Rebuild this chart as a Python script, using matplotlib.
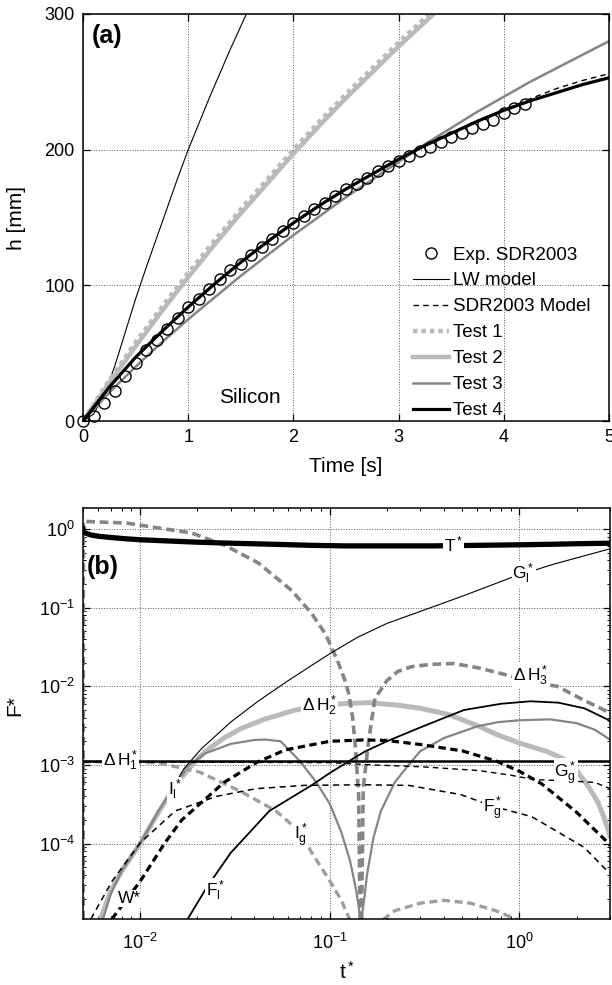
import matplotlib
matplotlib.use('Agg')
import matplotlib.pyplot as plt
import numpy as np
from matplotlib.ticker import LogLocator, NullFormatter
from matplotlib.lines import Line2D

plt.rcParams['font.family'] = ['Liberation Sans', 'DejaVu Sans']
plt.rcParams['mathtext.fontset'] = 'custom'
plt.rcParams['mathtext.rm'] = 'Liberation Sans'
plt.rcParams['mathtext.it'] = 'Liberation Sans:italic'
plt.rcParams['mathtext.bf'] = 'Liberation Sans:bold'
plt.rcParams['mathtext.default'] = 'regular'

# ---------------- datos panel (a) ----------------
exp_t = [0.0, 0.1, 0.2, 0.3, 0.4, 0.5, 0.6, 0.7, 0.8, 0.9,
         1.0, 1.1, 1.2, 1.3, 1.4, 1.5, 1.6, 1.7, 1.8, 1.9,
         2.0, 2.1, 2.2, 2.3, 2.4, 2.5, 2.6, 2.7, 2.8, 2.9,
         3.0, 3.1, 3.2, 3.3, 3.4, 3.5, 3.6, 3.7, 3.8, 3.9,
         4.0, 4.1, 4.2]
exp_h = [0, 4, 13, 22, 33, 43, 52, 60, 68, 76,
         84, 90, 97, 105, 111, 116, 122, 128, 134, 140,
         146, 151, 156, 161, 166, 171, 175, 179, 184, 188,
         192, 195, 199, 202, 206, 209, 212, 216, 219, 222,
         227, 231, 234]

t_lw = [0, 0.1, 0.2, 0.3, 0.4, 0.5, 0.6, 0.7, 0.8, 0.9, 1.0, 1.2, 1.4, 1.6]
h_lw = [0, 5, 19, 40, 65, 90, 113, 135, 157, 179, 200, 238, 274, 308]

t_fast = [0, 0.25, 0.5, 0.75, 1.0, 1.25, 1.5, 1.75, 2.0, 2.25, 2.5, 2.75, 3.0, 3.25, 3.5]
h_test1 = [0, 30, 58, 84, 109, 133, 156, 178, 200, 221, 241, 260, 279, 297, 315]
h_test2 = [0, 28, 55, 81, 106, 130, 153, 175, 197, 218, 238, 257, 276, 294, 312]

t_full = [0, 0.25, 0.5, 0.75, 1.0, 1.25, 1.5, 1.75, 2.0, 2.25, 2.5,
          2.75, 3.0, 3.25, 3.5, 3.75, 4.0, 4.25, 4.5, 4.75, 5.0]
h_test3 = [0, 21, 40, 58, 75, 91, 107, 122, 137, 151, 165,
           178, 191, 204, 216, 228, 239, 250, 260, 270, 280]
h_test4 = [0, 25, 47, 66, 84, 101, 117, 132, 146, 159, 171,
           182, 193, 203, 212, 221, 229, 236, 242, 248, 253]
h_sdr = [0, 25, 47, 66, 84, 101, 117, 132, 146, 159, 171,
         182, 193, 203, 212, 221, 229, 237.5, 245, 251, 256]

# ---------------- datos panel (b) ----------------
x_T = [0.00501, 0.00505, 0.0055, 0.006, 0.007, 0.0085, 0.01, 0.015, 0.02, 0.03,
       0.05, 0.08, 0.12, 0.2, 0.35, 0.6, 1.0, 1.5, 2.0, 3.0]
y_T = [1.0, 0.9, 0.84, 0.81, 0.78, 0.75, 0.73, 0.70, 0.68, 0.66,
       0.64, 0.62, 0.61, 0.61, 0.61, 0.62, 0.63, 0.64, 0.65, 0.66]

x_Gl = [0.014, 0.017, 0.021, 0.03, 0.042, 0.06, 0.1, 0.14, 0.2, 0.34, 0.5, 0.9, 1.5, 2.2, 3.0]
y_Gl = [4e-4, 8.9e-4, 1.6e-3, 3.5e-3, 6.5e-3, 1.17e-2, 2.6e-2, 4.2e-2, 6.3e-2,
        0.1, 0.14, 0.24, 0.355, 0.457, 0.56]

x_H3 = [0.00501, 0.00502, 0.0085, 0.0187, 0.028, 0.042, 0.063, 0.08, 0.095, 0.1,
        0.11, 0.12, 0.126, 0.132, 0.137, 0.142, 0.1445,
        0.147, 0.15, 0.16, 0.173, 0.2, 0.229, 0.27, 0.34, 0.45, 0.62, 0.9,
        1.14, 1.58, 2.2, 3.0]
y_H3 = [1e-6, 1.25, 1.19, 0.89, 0.62, 0.37, 0.165, 0.085, 0.046, 0.035,
        0.021, 0.012, 8e-3, 4e-3, 1.5e-3, 4e-4, 1e-5,
        1e-5, 5e-4, 2e-3, 7e-3, 1.18e-2, 1.55e-2, 1.78e-2, 1.9e-2, 1.95e-2, 1.7e-2, 1.35e-2,
        1.15e-2, 1e-2, 6.6e-3, 4.6e-3]

x_H2 = [0.0061, 0.007, 0.008, 0.01, 0.0125, 0.0153, 0.018, 0.022, 0.028, 0.034,
        0.045, 0.066, 0.089, 0.115, 0.16, 0.229, 0.3, 0.42, 0.6, 0.77,
        1.0, 1.4, 1.7, 2.0, 2.3, 2.6, 2.8, 3.0]
y_H2 = [1e-5, 2.5e-5, 4.5e-5, 1e-4, 2.5e-4, 5.5e-4, 8.9e-4, 1.48e-3, 2.24e-3, 2.9e-3,
        3.8e-3, 5e-3, 5.6e-3, 6e-3, 6.2e-3, 5.75e-3, 5.25e-3, 4.4e-3, 3.16e-3, 2.4e-3,
        1.9e-3, 1.48e-3, 1.2e-3, 8.5e-4, 5.4e-4, 3.3e-4, 2.1e-4, 1.26e-4]

x_Il = [0.0063, 0.007, 0.008, 0.01, 0.0125, 0.0153, 0.018, 0.022, 0.03, 0.04,
        0.046, 0.055, 0.07, 0.085, 0.1, 0.115, 0.128, 0.138, 0.146,
        0.152, 0.157, 0.17, 0.186, 0.22, 0.26, 0.3, 0.4, 0.6, 0.77, 1.0,
        1.45, 2.0, 2.5, 3.0]
y_Il = [1e-5, 2.3e-5, 4.5e-5, 1e-4, 2.6e-4, 5.5e-4, 9.8e-4, 1.4e-3, 1.85e-3, 2.08e-3,
        2.1e-3, 2.0e-3, 1.1e-3, 6e-4, 3.2e-4, 1.4e-4, 6e-5, 2.5e-5, 1e-5,
        2e-5, 4e-5, 1.2e-4, 2.6e-4, 6e-4, 1e-3, 1.5e-3, 2.2e-3, 3.1e-3, 3.5e-3, 3.7e-3,
        3.8e-3, 3.4e-3, 2.8e-3, 2.1e-3]

x_Fl = [0.0174, 0.0224, 0.03, 0.048, 0.08, 0.1, 0.139, 0.153, 0.2, 0.3,
        0.51, 0.8, 1.14, 1.6, 2.2, 2.9, 3.0]
y_Fl = [1e-5, 2.75e-5, 7.6e-5, 2.6e-4, 5.5e-4, 7.9e-4, 1.29e-3, 1.48e-3, 2e-3, 3e-3,
        5e-3, 6e-3, 6.45e-3, 6.2e-3, 5.25e-3, 3.8e-3, 3.55e-3]

x_H1 = [0.005, 3.0]
y_H1 = [1.12e-3, 1.12e-3]

x_Ig = [0.005, 0.0124, 0.0206, 0.034, 0.052, 0.07, 0.08, 0.103, 0.115, 0.127, 0.13]
y_Ig = [1.1e-3, 1.07e-3, 8.1e-4, 4.6e-4, 2.6e-4, 1.4e-4, 7.8e-5, 3e-5, 1.9e-5, 1.1e-5, 9e-6]
x_Ig2 = [0.175, 0.183, 0.22, 0.3, 0.4, 0.55, 0.75, 1.0, 1.05]
y_Ig2 = [8e-6, 1e-5, 1.4e-5, 1.75e-5, 1.9e-5, 1.75e-5, 1.4e-5, 1.05e-5, 9e-6]

x_W = [0.0071, 0.01, 0.0135, 0.0166, 0.0277, 0.041, 0.058, 0.1, 0.15, 0.2,
       0.3, 0.5, 0.755, 1.0, 1.31, 2.0, 2.9, 3.0]
y_W = [1.1e-5, 3.3e-5, 1.02e-4, 2e-4, 6e-4, 1.07e-3, 1.55e-3, 2e-3, 2.08e-3, 2.05e-3,
       1.82e-3, 1.51e-3, 1.12e-3, 8.3e-4, 5.75e-4, 2.5e-4, 1.05e-4, 9.5e-5]

x_Fg = [0.0055, 0.0071, 0.01, 0.0153, 0.0254, 0.041, 0.0734, 0.15, 0.26, 0.49,
        0.72, 1.16, 1.6, 2.2, 2.8, 3.0]
y_Fg = [1.1e-5, 3.3e-5, 1.02e-4, 2.6e-4, 4e-4, 5e-4, 5.5e-4, 5.6e-4, 5.5e-4, 4.2e-4,
        3e-4, 2.2e-4, 1.4e-4, 8.9e-5, 4.9e-5, 4.2e-5]

x_Gg = [0.005, 0.1, 0.17, 0.3, 0.61, 0.9, 1.2, 1.75, 2.5, 3.0]
y_Gg = [1.1e-3, 1.07e-3, 1e-3, 9.5e-4, 8.5e-4, 7.4e-4, 6.5e-4, 6.3e-4, 6e-4, 5e-4]

# etiquetas de curvas: texto, x, y
curve_labels = [(r'$T^*$', 0.45, 0.63),
                (r'$G_l^*$', 1.05, 0.27),
                (r'$\Delta\,H_3^*$', 1.15, 0.0135),
                (r'$\Delta\,H_2^*$', 0.088, 5.6e-3),
                (r'$\Delta\,H_1^*$', 0.0079, 1.12e-3),
                (r'$I_l^*$', 0.0152, 4.8e-4),
                (r'$I_g^*$', 0.07, 1.26e-4),
                (r'$G_g^*$', 1.75, 7.8e-4),
                (r'$F_g^*$', 0.72, 2.75e-4),
                (r'$F_l^*$', 0.025, 2.5e-5),
                ('W*', 0.0088, 2e-5)]

LGRAY = '#bababa'
MGRAY = '#858585'
GRAY_IG = '#9e9e9e'

fig = plt.figure(figsize=(6.12, 9.85), dpi=100)

# ---------------- panel (a) ----------------
ax1 = fig.add_axes([83/612, 1-421/985, 526/612, 407/985])
ax1.plot(t_lw, h_lw, color='k', lw=0.8)
ax1.plot(t_fast, h_test2, color=LGRAY, lw=3.2)
ax1.plot(t_fast, h_test1, color=LGRAY, lw=3.2, ls=(0, (1, 0.9)))
ax1.plot(t_full, h_test3, color=MGRAY, lw=1.8)
ax1.plot(t_full, h_sdr, color='k', lw=1.0, ls=(0, (4, 3)))
ax1.plot(exp_t, exp_h, 'o', mfc='none', mec='k', ms=8, mew=1.0, clip_on=False, zorder=4)
ax1.plot(t_full, h_test4, color='k', lw=2.3, zorder=5)

ax1.set_xlim(0, 5)
ax1.set_ylim(0, 300)
ax1.set_xticks([0, 1, 2, 3, 4, 5])
ax1.set_yticks([0, 100, 200, 300])
ax1.set_xlabel('Time [s]', fontsize=15)
ax1.set_ylabel('h [mm]', fontsize=15)
ax1.xaxis.set_label_coords(0.5, -0.088)
ax1.yaxis.set_label_coords(-0.108, 0.5)
ax1.text(0.085, 284, '(a)', fontsize=18, fontweight='bold', va='center', ha='left')
ax1.text(1.59, 17, 'Silicon', fontsize=15, ha='center', va='center')

handles = [Line2D([], [], ls='none', marker='o', mfc='none', mec='k', ms=8, mew=1.0),
           Line2D([], [], color='k', lw=0.8),
           Line2D([], [], color='k', lw=1.0, ls=(0, (4, 3))),
           Line2D([], [], color=LGRAY, lw=3.2, ls=(0, (1, 0.9))),
           Line2D([], [], color=LGRAY, lw=3.2),
           Line2D([], [], color=MGRAY, lw=1.8),
           Line2D([], [], color='k', lw=2.3)]
names = ['Exp. SDR2003', 'LW model', 'SDR2003 Model', 'Test 1', 'Test 2', 'Test 3', 'Test 4']
ax1.legend(handles, names, loc='upper left', bbox_to_anchor=(0.628, 0.429),
           frameon=False, fontsize=13.5, handlelength=1.9, handletextpad=0.2,
           labelspacing=0.47, borderpad=0, borderaxespad=0)

# ---------------- panel (b) ----------------
ax2 = fig.add_axes([83/612, 1-919/985, 527/612, 411/985])
ax2.set_xscale('log')
ax2.set_yscale('log')
ax2.plot(x_H2, y_H2, color=LGRAY, lw=3.6)
ax2.plot(x_Il, y_Il, color=MGRAY, lw=1.6)
ax2.plot(x_Ig, y_Ig, color=GRAY_IG, lw=2.4, ls=(0, (2.4, 1.4)))
ax2.plot(x_Ig2, y_Ig2, color=GRAY_IG, lw=2.4, ls=(0, (2.4, 1.4)))
ax2.plot(x_H3, y_H3, color=MGRAY, lw=2.6, ls=(0, (2.4, 1.3)))
ax2.plot(x_Gl, y_Gl, color='k', lw=0.8)
ax2.plot(x_Fl, y_Fl, color='k', lw=1.3)
ax2.plot(x_Fg, y_Fg, color='k', lw=1.1, ls=(0, (4, 3)))
ax2.plot(x_Gg, y_Gg, color='k', lw=1.0, ls=(0, (4, 3)))
ax2.plot(x_W, y_W, color='k', lw=2.3, ls=(0, (2.3, 1.4)))
ax2.plot(x_H1, y_H1, color='k', lw=1.8)
ax2.plot(x_T, y_T, color='k', lw=3.8)

for txt, xx, yy in curve_labels:
    ax2.text(xx, yy, txt, fontsize=12.5, ha='center', va='center', zorder=10,
             bbox=dict(facecolor='white', edgecolor='none', pad=0.6))

ax2.set_xlim(0.005, 3)
ax2.set_ylim(1.1e-5, 1.85)
ax2.xaxis.set_major_locator(LogLocator(base=10, numticks=20))
ax2.yaxis.set_major_locator(LogLocator(base=10, numticks=20))
ax2.xaxis.set_minor_locator(LogLocator(base=10, subs=np.arange(2, 10), numticks=50))
ax2.yaxis.set_minor_locator(LogLocator(base=10, subs=np.arange(2, 10), numticks=50))
ax2.xaxis.set_minor_formatter(NullFormatter())
ax2.yaxis.set_minor_formatter(NullFormatter())
ax2.set_xlabel(r'$t^*$', fontsize=15)
ax2.set_ylabel('F*', fontsize=15)
ax2.xaxis.set_label_coords(0.5, -0.102)
ax2.yaxis.set_label_coords(-0.112, 0.52)
ax2.text(0.008, 0.856, '(b)', transform=ax2.transAxes, fontsize=18,
         fontweight='bold', va='center', ha='left', zorder=11)

# estilo tipo MATLAB
for ax in (ax1, ax2):
    ax.grid(True, which='major', color='0.35', ls=':', lw=0.7)
    ax.tick_params(which='both', direction='in', top=True, right=True, labelsize=13)
    ax.tick_params(which='major', length=5, width=0.9, pad=6)
    ax.tick_params(which='minor', length=2.5, width=0.7)
    for s in ax.spines.values():
        s.set_linewidth(1.1)
ax2.tick_params(axis='x', which='major', pad=10)

fig.savefig('out.png', dpi=100)
